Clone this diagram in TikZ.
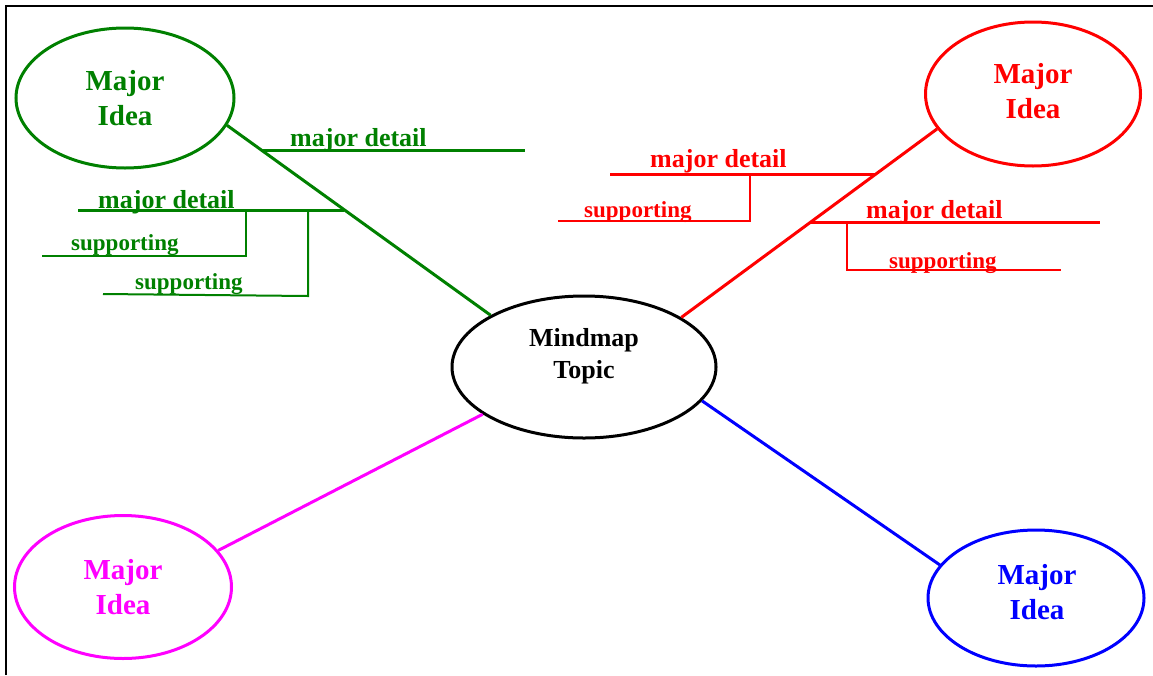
\documentclass[tikz,border=0pt]{standalone}
\usepackage{fontspec}
\setmainfont{Liberation Serif}
\usetikzlibrary{shapes.geometric}
\definecolor{mgreen}{RGB}{0,128,0}
\definecolor{mred}{RGB}{255,0,0}
\definecolor{mmag}{RGB}{255,0,255}
\definecolor{mblue}{RGB}{0,0,255}
\tikzset{
  idea/.style={ellipse, draw, line width=3pt, inner sep=0pt, minimum width=216pt, minimum height=142pt,
    font=\fontsize{29}{35}\selectfont\bfseries, align=center},
  ideatext/.style={font=\fontsize{29}{35}\selectfont\bfseries, align=center, inner sep=0pt},
  topicshape/.style={ellipse, draw=black, line width=3pt, inner sep=0pt, minimum width=264pt, minimum height=142pt},
  topictext/.style={font=\fontsize{26}{32}\selectfont\bfseries, align=center, inner sep=0pt},
  branch/.style={line width=3pt},
  mdline/.style={line width=3pt},
  supline/.style={line width=2pt},
  mdtext/.style={anchor=base west, inner sep=0pt, font=\fontsize{26}{30}\selectfont\bfseries},
  suptext/.style={anchor=base west, inner sep=0pt, font=\fontsize{23}{27}\selectfont\bfseries},
  frame/.style={line width=2pt, black}
}
\begin{document}
\begin{tikzpicture}[x=1pt,y=-1pt]
\useasboundingbox (0,0) rectangle (1153,675);
\draw[frame] (6,675) -- (6,6) -- (1153,6);

% central topic
\node[topicshape] (c) at (584,367) {};
\node[topictext] (ct) at (584,356) {Mindmap\\Topic};

% major ideas
\node[idea, draw=mgreen, text=mgreen, minimum width=218pt, minimum height=140pt] (g) at (125,98) {Major\\Idea};
\node[idea, draw=mred, minimum width=215pt, minimum height=144pt] (r) at (1033,94) {};
\node[ideatext, text=mred] (rt) at (1033,91) {Major\\Idea};
\node[idea, draw=mmag, text=mmag, minimum width=217pt, minimum height=143pt] (m) at (123,587) {Major\\Idea};
\node[idea, draw=mblue, minimum width=216pt, minimum height=136pt] (b) at (1036,598) {};
\node[ideatext, text=mblue] (bt) at (1037,592) {Major\\Idea};

% branches
\draw[branch, mgreen] (g.-15) -- (c.151);
\draw[branch, mred] (r.200) -- (c.27);
\draw[branch, mmag] (m.21) -- (c.205);
\draw[branch, mblue] (b.161) -- (c.344);

% green details
\coordinate (gj1) at (262,150);
\coordinate (gj2) at (344,210);
\coordinate (gm1e) at (525,150);
\coordinate (gm2e) at (78,210);
\coordinate (gs1t) at (246,210);
\coordinate (gs1c) at (246,256);
\coordinate (gs1e) at (42,256);
\coordinate (gs2t) at (308,210);
\coordinate (gs2c) at (308,296);
\coordinate (gs2e) at (103,294);
\draw[mdline, mgreen] (gj1) -- (gm1e);
\draw[mdline, mgreen] (gj2) -- (gm2e);
\draw[supline, mgreen] (gs1t) -- (gs1c) -- (gs1e);
\draw[supline, mgreen] (gs2t) -- (gs2c) -- (gs2e);
\node[mdtext, text=mgreen] (gt1) at (290,146) {major detail};
\node[mdtext, text=mgreen] (gt2) at (98,208) {major detail};
\node[suptext, text=mgreen] (gt3) at (71,250) {supporting};
\node[suptext, text=mgreen] (gt4) at (135,289) {supporting};

% red details
\coordinate (rj1) at (875,174);
\coordinate (rj2) at (811,222);
\coordinate (rm1e) at (610,174);
\coordinate (rm2e) at (1100,222);
\coordinate (rs1t) at (750,174);
\coordinate (rs1c) at (750,221);
\coordinate (rs1e) at (558,221);
\coordinate (rs2t) at (847,222);
\coordinate (rs2c) at (847,270);
\coordinate (rs2e) at (1061,270);
\draw[mdline, mred] (rj1) -- (rm1e);
\draw[mdline, mred] (rj2) -- (rm2e);
\draw[supline, mred] (rs1t) -- (rs1c) -- (rs1e);
\draw[supline, mred] (rs2t) -- (rs2c) -- (rs2e);
\node[mdtext, text=mred] (rt1) at (650,167) {major detail};
\node[mdtext, text=mred] (rt2) at (866,218) {major detail};
\node[suptext, text=mred] (rt3) at (584,217) {supporting};
\node[suptext, text=mred] (rt4) at (889,268) {supporting};
\end{tikzpicture}
\end{document}
